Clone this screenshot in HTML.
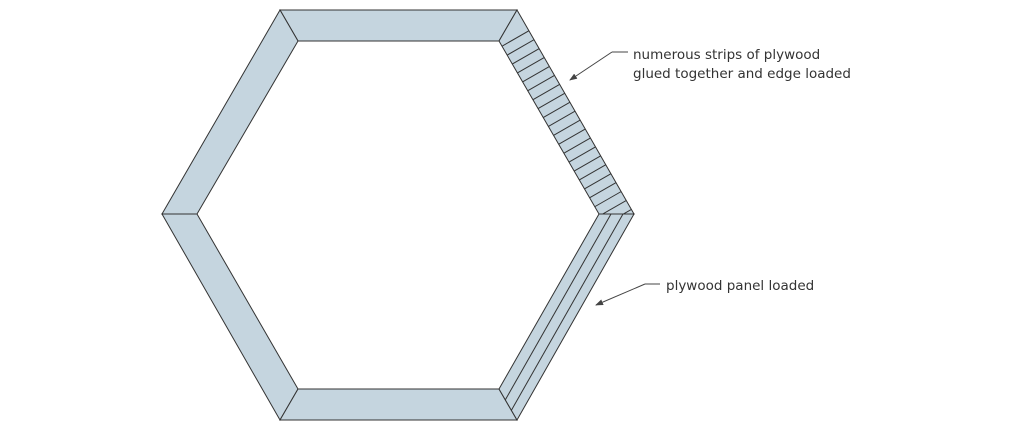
<!DOCTYPE html>
<html><head><meta charset="utf-8"><style>
html,body{margin:0;padding:0;background:#fff;}
svg{display:block}
text{font-family:"DejaVu Sans","Liberation Sans",sans-serif;font-size:13.5px;fill:#333}
</style></head><body>
<svg id="s" width="1020" height="431" viewBox="0 0 1020 431" xmlns="http://www.w3.org/2000/svg">
<defs>
<clipPath id="c1"><polygon points="517,10 634,214 599,214 499,41"/></clipPath>
<clipPath id="c2"><polygon points="599,214 634,214 517,420 499,389"/></clipPath>
<marker id="ar" markerWidth="8" markerHeight="6" refX="7" refY="3" orient="auto" markerUnits="userSpaceOnUse"><path d="M0,0 L8,3 L0,6 z" fill="#444"/></marker>
</defs>
<g fill="#c5d5df" stroke="#333" stroke-width="1">
<polygon points="280,10 517,10 499,41 298,41"/>
<polygon points="280,10 298,41 197,214 162,214"/>
<polygon points="162,214 197,214 298,389 280,420"/>
<polygon points="280,420 298,389 499,389 517,420"/>
<polygon points="517,10 634,214 599,214 499,41"/>
<polygon points="599,214 634,214 517,420 499,389"/>
</g>
<g id="h" clip-path="url(#c1)" stroke="#333" stroke-width="1"></g>
<g clip-path="url(#c2)" stroke="#333" stroke-width="1">
<line x1="611" y1="214" x2="491" y2="425"/>
<line x1="623" y1="214" x2="503" y2="425"/>
</g>
<line x1="628" y1="52" x2="612" y2="52" stroke="#444"/>
<line x1="612" y1="52" x2="570" y2="80" stroke="#444" marker-end="url(#ar)"/>
<text x="633" y="59">numerous strips of plywood</text>
<text x="633" y="78">glued together and edge loaded</text>
<line x1="660" y1="284" x2="645" y2="284" stroke="#444"/>
<line x1="645" y1="284" x2="596" y2="305" stroke="#444" marker-end="url(#ar)"/>
<text x="666" y="290">plywood panel loaded</text>
</svg>
<script>
var g=document.getElementById('h');
var ux=117/235.2,uy=204/235.2,nx=0.8673,ny=-0.4975;
for(var i=0;i<21;i++){var s=6+i*10.3;var px=499+ux*s,py=41+uy*s;
var l=document.createElementNS('http://www.w3.org/2000/svg','line');
l.setAttribute('x1',px-nx*5);l.setAttribute('y1',py-ny*5);l.setAttribute('x2',px+nx*45);l.setAttribute('y2',py+ny*45);g.appendChild(l);}
</script>
</body></html>
